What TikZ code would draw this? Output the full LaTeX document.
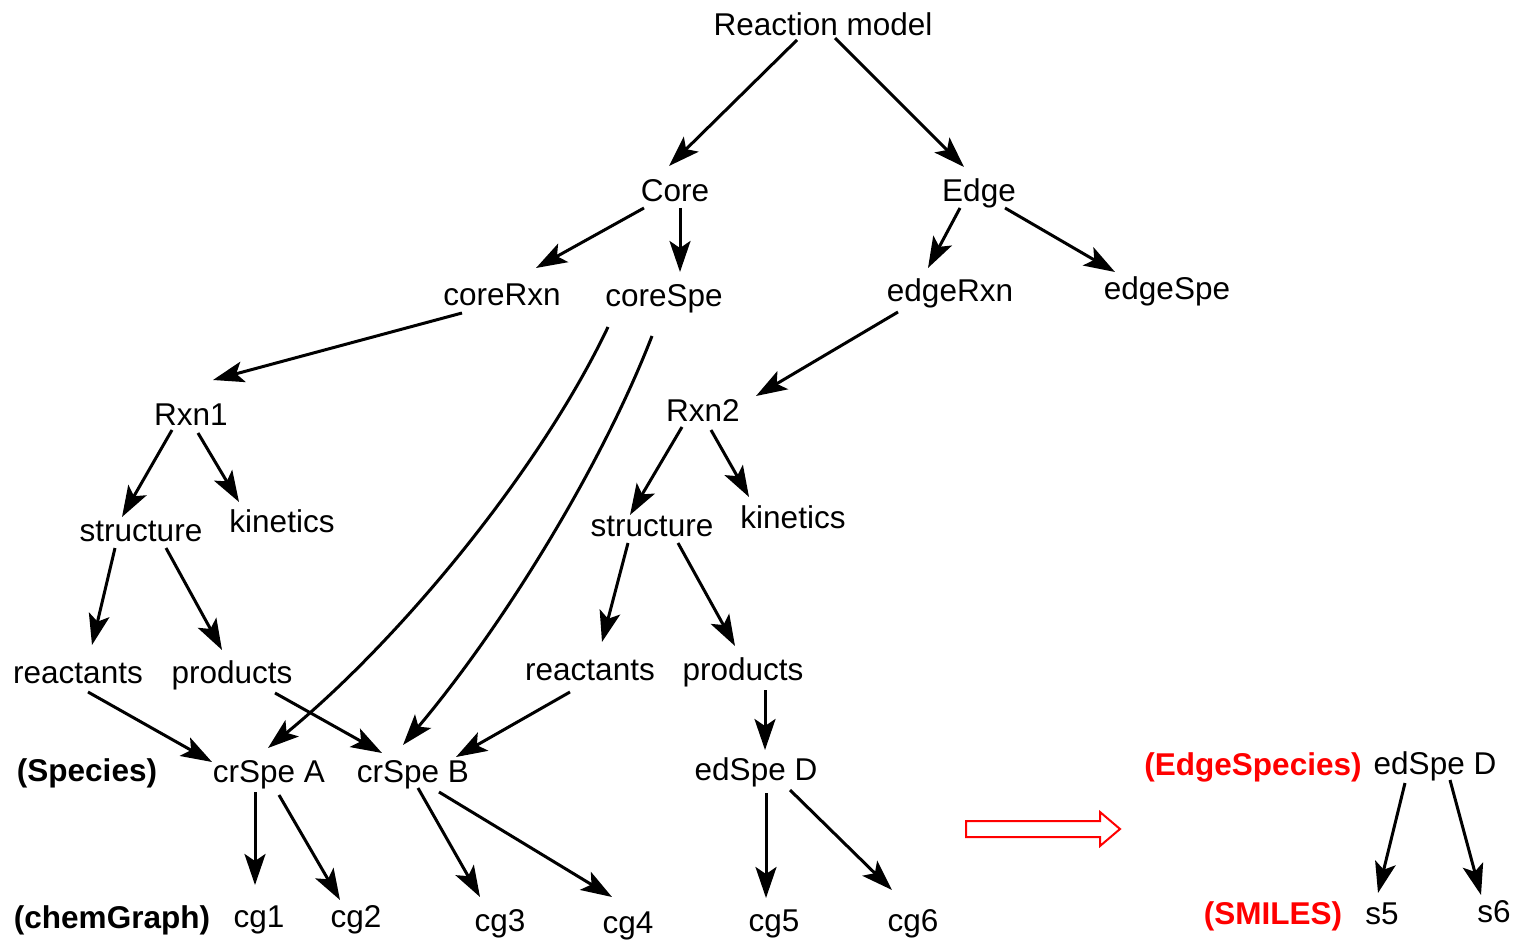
\documentclass[tikz,border=0pt]{standalone}
\usepackage{fontspec}
\setmainfont{Liberation Sans}
\usetikzlibrary{arrows.meta,calc}
\begin{document}
\begin{tikzpicture}[x=1pt,y=-1pt,
  lbl/.style={anchor=base,inner sep=0pt,font=\fontsize{31.5}{37}\selectfont},
  tag/.style={lbl,font=\fontsize{31.5}{37}\selectfont\bfseries},
  redtag/.style={tag,text=red},
  arr/.style={line width=3pt,-{Stealth[length=31pt,width=21pt,inset=7pt]}}]
\path[use as bounding box,fill=white] (0,0) rectangle (1516,941);

% tree nodes (placed by baseline)
\node[lbl] (rm) at (823,36) {Reaction model};
\node[lbl] (core) at (675,202) {Core};
\node[lbl] (edge) at (979,202) {Edge};
\node[lbl] (corerxn) at (502,306) {coreRxn};
\node[lbl] (corespe) at (664,307) {coreSpe};
\node[lbl] (edgerxn) at (950,302) {edgeRxn};
\node[lbl] (edgespe) at (1167,300) {edgeSpe};
\node[lbl] (rxna) at (191,425) {Rxn1};
\node[lbl] (rxnb) at (703,421) {Rxn2};
\node[lbl] (structa) at (141,541) {structure};
\node[lbl] (kina) at (282,532) {kinetics};
\node[lbl] (structb) at (652,536) {structure};
\node[lbl] (kinb) at (793,528) {kinetics};
\node[lbl] (reaca) at (78,683) {reactants};
\node[lbl] (proda) at (232,683) {products};
\node[lbl] (reacb) at (590,680) {reactants};
\node[lbl] (prodb) at (743,680) {products};
\node[tag] (lspecies) at (87,781) {(Species)};
\node[lbl] (crspea) at (269,782) {crSpe A};
\node[lbl] (crspeb) at (413,782) {crSpe B};
\node[lbl] (edsped) at (756,780) {edSpe D};
\node[tag] (lchem) at (112,928) {(chemGraph)};
\node[lbl] (cga) at (259,927) {cg1};
\node[lbl] (cgb) at (356,927) {cg2};
\node[lbl] (cgc) at (500,931) {cg3};
\node[lbl] (cgd) at (628,933) {cg4};
\node[lbl] (cge) at (774,931) {cg5};
\node[lbl] (cgf) at (913,931) {cg6};
\node[redtag] (ledge) at (1253,775) {(EdgeSpecies)};
\node[lbl] (edspedr) at (1435,774) {edSpe D};
\node[redtag] (lsmiles) at (1273,924) {(SMILES)};
\node[lbl] (sa) at (1382,924) {s5};
\node[lbl] (sb) at (1494,922) {s6};

% connectors
\draw[arr] ($(rm.base)+(-26,4)$) -- ($(core.base)+(-6,-36)$);
\draw[arr] ($(rm.base)+(12,2)$) -- ($(edge.base)+(-15,-35)$);
\draw[arr] ($(core.base)+(-31,6)$) -- ($(corerxn.base)+(34,-38)$);
\draw[arr] ($(core.base)+(5,6)$) -- ($(corespe.base)+(16,-35)$);
\draw[arr] ($(edge.base)+(-19,6)$) -- ($(edgerxn.base)+(-22,-34)$);
\draw[arr] ($(edge.base)+(26,6)$) -- ($(edgespe.base)+(-52,-28)$);
\draw[arr] ($(corerxn.base)+(-40,7)$) -- ($(rxna.base)+(22,-45)$);
\draw[arr] ($(edgerxn.base)+(-52,10)$) -- ($(rxnb.base)+(53,-25)$);
\draw[arr] ($(rxna.base)+(-19,5)$) -- ($(structa.base)+(-19,-24)$);
\draw[arr] ($(rxna.base)+(7,8)$) -- ($(kina.base)+(-43,-30)$);
\draw[arr] ($(rxnb.base)+(-21,6)$) -- ($(structb.base)+(-22,-21)$);
\draw[arr] ($(rxnb.base)+(8,9)$) -- ($(kinb.base)+(-44,-31)$);
\draw[arr] ($(structa.base)+(-26,7)$) -- ($(reaca.base)+(14,-38)$);
\draw[arr] ($(structa.base)+(25,7)$) -- ($(proda.base)+(-10,-33)$);
\draw[arr] ($(structb.base)+(-24,7)$) -- ($(reacb.base)+(12,-38)$);
\draw[arr] ($(structb.base)+(26,7)$) -- ($(prodb.base)+(-8,-34)$);
\draw[arr] ($(reaca.base)+(10,9)$) -- ($(crspea.base)+(-57,-20)$);
\draw[arr] ($(proda.base)+(43,10)$) -- ($(crspeb.base)+(-31,-29)$);
\draw[arr] ($(reacb.base)+(-20,12)$) -- ($(crspeb.base)+(43,-25)$);
\draw[arr] ($(prodb.base)+(22,10)$) -- ($(edsped.base)+(9,-30)$);
\draw[arr] ($(corespe.base)+(-56,20)$) .. controls (540,470) and (400,640) .. ($(crspea.base)+(-1,-34)$);
\draw[arr] ($(corespe.base)+(-12,29)$) .. controls (600,470) and (500,630) .. ($(crspeb.base)+(-10,-37)$);
\draw[arr] ($(crspea.base)+(-14,10)$) -- ($(cga.base)+(-4,-42)$);
\draw[arr] ($(crspea.base)+(10,13)$) -- ($(cgb.base)+(-16,-27)$);
\draw[arr] ($(crspeb.base)+(5,6)$) -- ($(cgc.base)+(-20,-34)$);
\draw[arr] ($(crspeb.base)+(26,10)$) -- ($(cgd.base)+(-16,-36)$);
\draw[arr] ($(edsped.base)+(10,13)$) -- ($(cge.base)+(-8,-33)$);
\draw[arr] ($(edsped.base)+(34,10)$) -- ($(cgf.base)+(-21,-41)$);
\draw[arr] ($(edspedr.base)+(-30,9)$) -- ($(sa.base)+(-4,-31)$);
\draw[arr] ($(edspedr.base)+(15,6)$) -- ($(sb.base)+(-13,-27)$);

% hollow red block arrow
\draw[red,line width=2pt,line join=miter,fill=white]
  (966,821) -- (1100,821) -- (1100,812) -- (1120,829) -- (1100,846)
  -- (1100,837) -- (966,837) -- cycle;
\end{tikzpicture}
\end{document}
